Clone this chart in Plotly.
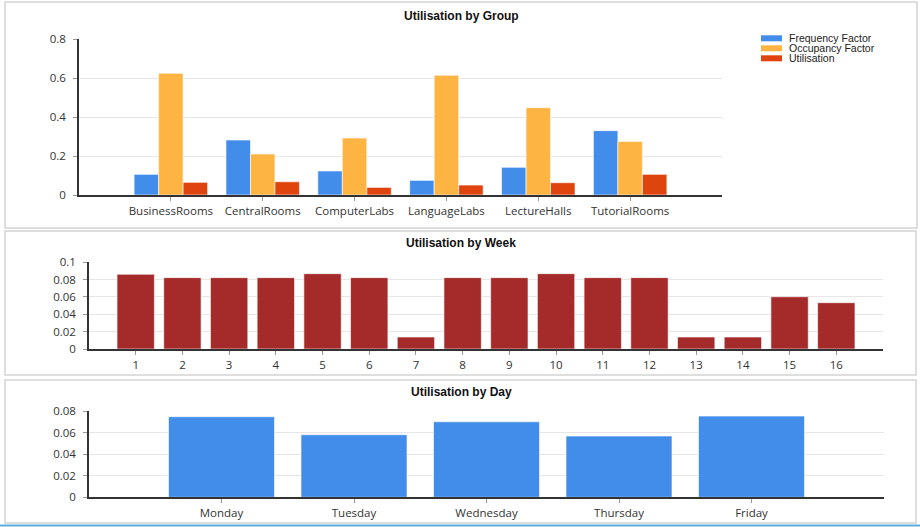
import plotly.graph_objects as go

# ---------------- data ----------------
groups = ["BusinessRooms", "CentralRooms", "ComputerLabs", "LanguageLabs", "LectureHalls", "TutorialRooms"]
series_names = ["Frequency Factor", "Occupancy Factor", "Utilisation"]
frequency_factor = [0.106, 0.282, 0.123, 0.075, 0.142, 0.330]
occupancy_factor = [0.624, 0.210, 0.292, 0.614, 0.448, 0.275]
utilisation_group = [0.065, 0.068, 0.039, 0.051, 0.063, 0.106]

weeks = list(range(1, 17))
utilisation_week = [0.0862, 0.0823, 0.0823, 0.0823, 0.0869, 0.0823, 0.0138, 0.0823,
                    0.0823, 0.0869, 0.0823, 0.0823, 0.0138, 0.0138, 0.0603, 0.0534]

days = ["Monday", "Tuesday", "Wednesday", "Thursday", "Friday"]
utilisation_day = [0.0747, 0.0580, 0.0700, 0.0568, 0.0753]

# ---------------- styling ----------------
W, H = 920, 527
BLUE, ORANGE, RED, DARKRED = "#428CEA", "#FDB443", "#E0440E", "#A52A2A"
series_colors = [BLUE, ORANGE, RED]
TICKFONT = dict(family="Open Sans", size=11.5, color="#333")
GRID = "#E6E6E6"
AXIS = "#333333"


def px(x):
    return x / W


def py(y):
    return 1 - y / H


fig = go.Figure()
outline = dict(color="rgba(255,255,255,0.6)", width=1)
for name, vals, col in zip(series_names, [frequency_factor, occupancy_factor, utilisation_group], series_colors):
    fig.add_trace(go.Bar(x=groups, y=vals, name=name, marker=dict(color=col, line=outline),
                         xaxis="x", yaxis="y", showlegend=False, offsetgroup=name))
fig.add_trace(go.Bar(x=weeks, y=utilisation_week, marker=dict(color=DARKRED, line=outline),
                     xaxis="x2", yaxis="y2", showlegend=False))
fig.add_trace(go.Bar(x=days, y=utilisation_day, marker=dict(color=BLUE, line=outline),
                     xaxis="x3", yaxis="y3", showlegend=False))


def xax(domain, **kw):
    d = dict(domain=domain, showgrid=False, showline=True, linecolor=AXIS, linewidth=1.5,
             ticks="outside", ticklen=4, tickcolor="#999", tickfont=TICKFONT, zeroline=False,
             fixedrange=True, automargin=False)
    d.update(kw)
    return d


def yax(domain, rng, dtick, anchor, **kw):
    d = dict(domain=domain, range=rng, dtick=dtick, showgrid=True, gridcolor=GRID, gridwidth=1,
             showline=True, linecolor=AXIS, linewidth=1.5, ticks="outside", ticklen=4,
             tickcolor="#999", tickfont=TICKFONT, zeroline=False, anchor=anchor,
             ticklabelstandoff=5, fixedrange=True, automargin=False)
    d.update(kw)
    return d


fig.update_layout(
    width=W, height=H, autosize=False,
    margin=dict(l=0, r=0, t=0, b=0, pad=0, autoexpand=False),
    paper_bgcolor="white", plot_bgcolor="white",
    barmode="group", bargap=0.2, bargroupgap=0,
    xaxis=xax([px(79), px(722)], type="category", range=[-1, 6], anchor="y"),
    yaxis=yax([py(195), py(39)], [0, 0.8], 0.2, "x"),
    xaxis2=xax([px(89), px(883)], range=[0, 17], tickvals=weeks, anchor="y2"),
    yaxis2=yax([py(349), py(262.3)], [0, 0.1], 0.02, "x2"),
    xaxis3=xax([px(89), px(884)], type="category", range=[-1, 5], anchor="y3"),
    yaxis3=yax([py(497.3), py(411)], [0, 0.08], 0.02, "x3"),
    showlegend=False,
)

# panel borders
shapes = []
for (x0, y0, x1, y1) in [(5, 2, 917, 228), (5, 231, 916, 375), (5, 380, 916, 523)]:
    shapes.append(dict(type="rect", xref="paper", yref="paper", x0=px(x0), x1=px(x1), y0=py(y0), y1=py(y1),
                       line=dict(color="#D3D3D3", width=1.5), fillcolor="rgba(0,0,0,0)", layer="below"))
# bottom blue strip
shapes.append(dict(type="line", xref="paper", yref="paper", x0=0, x1=1, y0=py(525.5), y1=py(525.5),
                   line=dict(color="#5BAEE0", width=2)))

# custom legend
annotations = []
for i, (name, col) in enumerate(zip(series_names, series_colors)):
    yc = 38.3 + 10 * i
    shapes.append(dict(type="rect", xref="paper", yref="paper", x0=px(761), x1=px(782),
                       y0=py(yc + 3), y1=py(yc - 3), fillcolor=col, line=dict(width=0)))
    annotations.append(dict(text=name, xref="paper", yref="paper", x=px(787), y=py(yc),
                            xanchor="left", yanchor="middle", showarrow=False,
                            font=dict(family="Liberation Sans", size=10.5, color="#222")))

titles = [("Utilisation by Group", 16), ("Utilisation by Week", 243), ("Utilisation by Day", 392)]
for t, yc in titles:
    annotations.append(dict(text="<b>%s</b>" % t, xref="paper", yref="paper", x=px(461), y=py(yc),
                            xanchor="center", yanchor="middle", showarrow=False,
                            font=dict(family="Liberation Sans", size=12, color="#111")))

fig.update_layout(shapes=shapes, annotations=annotations)

fig.write_html("out.html", config={"displayModeBar": False},
               post_script="document.body.style.margin='0';")
